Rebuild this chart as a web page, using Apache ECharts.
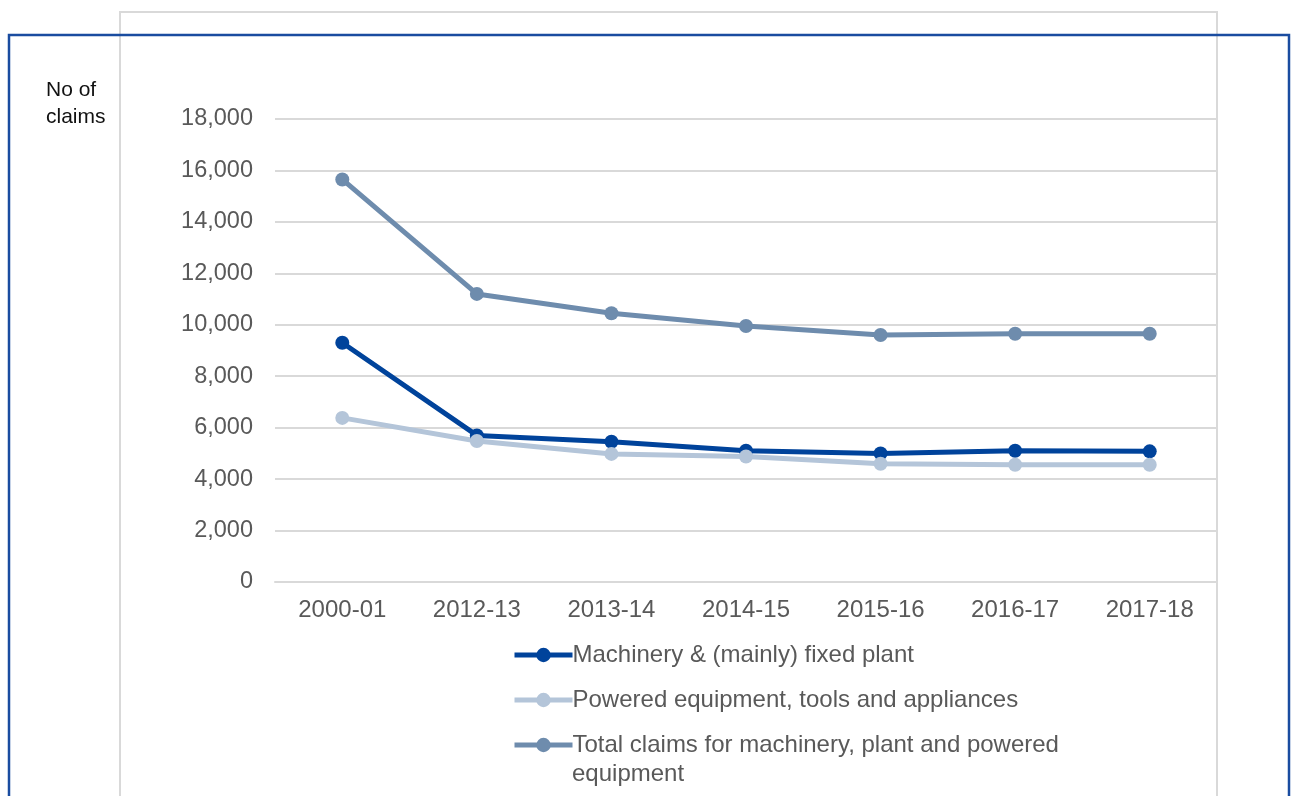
<!DOCTYPE html>
<html>
<head>
<meta charset="utf-8">
<script src="https://cdn.jsdelivr.net/npm/echarts@6/dist/echarts.min.js"></script>
<style>
  html, body { margin: 0; padding: 0; background: #fff; }
  #chart { width: 1297px; height: 796px; }
</style>
</head>
<body>
<div id="chart"></div>
<script>
// financial years
const years = ['2000-01', '2012-13', '2013-14', '2014-15', '2015-16', '2016-17', '2017-18'];
// number of claims per series
const machinery = [9300, 5700, 5450, 5100, 5000, 5100, 5080];
const powered = [6380, 5480, 4980, 4880, 4600, 4560, 4560];
const total = [15650, 11200, 10450, 9950, 9600, 9650, 9650];

const names = [
  'Machinery & (mainly) fixed plant',
  'Powered equipment, tools and appliances',
  'Total claims for machinery, plant and powered'
];

const chart = echarts.init(document.getElementById('chart'));

function line(name, data, color) {
  return {
    name: name,
    type: 'line',
    data: data,
    symbol: 'circle',
    symbolSize: 14,
    lineStyle: { width: 5, color: color },
    itemStyle: { color: color },
    z: 3
  };
}

chart.setOption({
  animation: false,
  graphic: [
    {
      type: 'rect',
      shape: { x: 120, y: 12, width: 1097, height: 900 },
      style: { fill: 'none', stroke: '#d9d9d9', lineWidth: 2 },
      silent: true, z: -1
    },
    {
      type: 'rect',
      shape: { x: 9, y: 35, width: 1280, height: 900 },
      style: { fill: 'none', stroke: '#1a4ca0', lineWidth: 2.5 },
      silent: true, z: -1
    },
    {
      type: 'text',
      left: 46, top: 77,
      style: { text: 'No of\nclaims', font: '21px "Liberation Sans", Arial', fill: '#111', lineHeight: 27 }
    },
    {
      type: 'text',
      left: 572, top: 762,
      style: { text: 'equipment', font: '24px "Liberation Sans", Arial', fill: '#595959' }
    }
  ],
  grid: { left: 275, right: 80, top: 119, bottom: 214, containLabel: false },
  legend: {
    orient: 'vertical',
    left: 507,
    top: 635,
    itemWidth: 58,
    itemHeight: 18,
    itemGap: 15,
    data: names,
    lineStyle: { width: 5 },
    textStyle: { fontFamily: '"Liberation Sans", Arial', fontSize: 24, color: '#595959', lineHeight: 30, padding: [0, 0, 0, -5] }
  },
  xAxis: {
    type: 'category',
    data: years,
    boundaryGap: true,
    axisLine: { lineStyle: { color: '#d9d9d9', width: 2 } },
    axisTick: { show: false },
    axisLabel: { margin: 16, fontFamily: '"Liberation Sans", Arial', fontSize: 24, color: '#595959' }
  },
  yAxis: {
    type: 'value',
    min: 0,
    max: 18000,
    interval: 2000,
    axisLine: { show: false },
    axisTick: { show: false },
    splitLine: { lineStyle: { color: '#d9d9d9', width: 2 } },
    axisLabel: {
      margin: 22,
      fontFamily: '"Liberation Sans", Arial',
      fontSize: 23.5,
      color: '#595959',
      formatter: v => v.toLocaleString('en-US')
    }
  },
  series: [
    line(names[0], machinery, '#00439b'),
    line(names[1], powered, '#b4c5d9'),
    line(names[2], total, '#6e8cad')
  ]
});
</script>
</body>
</html>
